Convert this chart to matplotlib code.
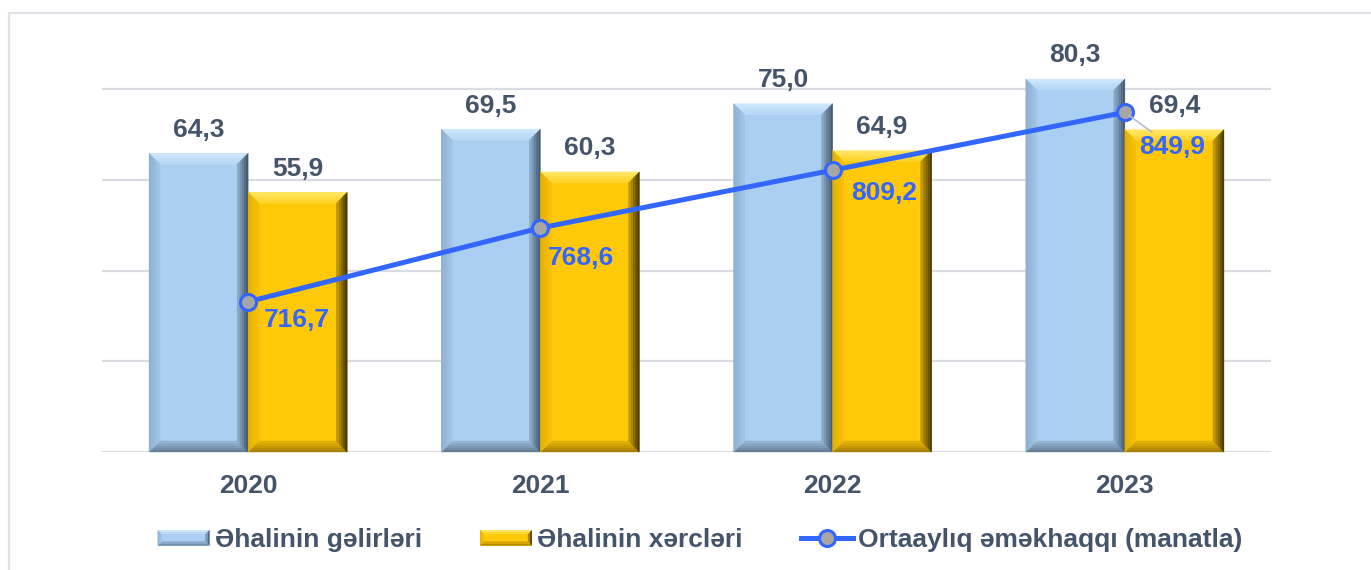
import numpy as np
import matplotlib.pyplot as plt
from matplotlib.patches import Polygon, Rectangle
from matplotlib.lines import Line2D
from matplotlib.legend_handler import HandlerBase
from matplotlib.colors import to_rgb

plt.rcParams['font.family'] = ['Liberation Sans', 'DejaVu Sans']
plt.rcParams['font.weight'] = 'bold'

years = ['2020', '2021', '2022', '2023']
income = [64.3, 69.5, 75.0, 80.3]
expense = [55.9, 60.3, 64.9, 69.4]
wage = [716.7, 768.6, 809.2, 849.9]

income_lbl = ['64,3', '69,5', '75,0', '80,3']
expense_lbl = ['55,9', '60,3', '64,9', '69,4']
wage_lbl = ['716,7', '768,6', '809,2', '849,9']
# label offsets for the wage line (points)
wage_off = [(35, -13), (29, -22), (37, -16.5), (34, -25)]

TXT = '#44546A'
LINE = '#3366FF'
GRID = '#D9DDE3'
BLUE = dict(face='#AACFF2', top='#D2EAFD', left='#8CADCE', right='#3F5267', bottom='#60778F')
GOLD = dict(face='#FFC90A', top='#FFEA70', left='#E3AE00', right='#3E2F00', bottom='#A07A00')

W, H = 1371, 570
fig = plt.figure(figsize=(W / 100, H / 100), dpi=100)
ax = fig.add_axes([102 / W, (570 - 452) / H, 1169 / W, 422 / H])

# outer frame
fig.add_artist(Rectangle((9 / W, -0.1), 1.2, 1.1 - 13 / H, transform=fig.transFigure,
                         fill=False, edgecolor='#DDE2E8', lw=1.6))

x = np.arange(len(years))
bw = 0.339
ax.set_xlim(-0.5, 3.5)
ymax = 90.85
ax.set_ylim(0, ymax)
step = 90.75 / 422 * ymax
for k in range(5):
    ax.axhline(k * step, color=GRID, lw=1.6, zorder=0)

b1 = ax.bar(x - bw / 2, income, bw, color=BLUE['face'], zorder=2, clip_on=False)
b2 = ax.bar(x + bw / 2, expense, bw, color=GOLD['face'], zorder=2, clip_on=False)


def mix(c1, c2, t):
    a, b = np.array(to_rgb(c1)), np.array(to_rgb(c2))
    return tuple(a + (b - a) * t)


def bevel_polys(x0, y0, x1, y1, bx, by, col, n=5):
    out = []
    for i in range(n):
        s0, s1 = i / n, (i + 1) / n
        ax0, ay0 = bx * s0, by * s0
        ax1, ay1 = bx * s1, by * s1
        sides = {
            'top': [(x0 + ax0, y1 - ay0), (x1 - ax0, y1 - ay0), (x1 - ax1, y1 - ay1), (x0 + ax1, y1 - ay1)],
            'bottom': [(x0 + ax0, y0 + ay0), (x1 - ax0, y0 + ay0), (x1 - ax1, y0 + ay1), (x0 + ax1, y0 + ay1)],
            'left': [(x0 + ax0, y0 + ay0), (x0 + ax0, y1 - ay0), (x0 + ax1, y1 - ay1), (x0 + ax1, y0 + ay1)],
            'right': [(x1 - ax0, y0 + ay0), (x1 - ax0, y1 - ay0), (x1 - ax1, y1 - ay1), (x1 - ax1, y0 + ay1)],
        }
        t = (i + 0.5) / n
        for side, pts in sides.items():
            out.append((pts, mix(col[side], col['face'], 0.75 * t)))
    return out


bevel = 11
bx = bevel * 4.0 / 1169
by = bevel * ymax / 422


def add_bevel(bars, col):
    for r in bars:
        x0, y0 = r.get_x(), r.get_y()
        x1, y1 = x0 + r.get_width(), y0 + r.get_height()
        for pts, fc in bevel_polys(x0, y0, x1, y1, bx, by, col):
            ax.add_patch(Polygon(pts, closed=True, facecolor=fc, edgecolor=fc, lw=0.3,
                                 zorder=2.1, clip_on=False))


add_bevel(b1, BLUE)
add_bevel(b2, GOLD)

for r, t in zip(b1, income_lbl):
    ax.annotate(t, (r.get_x() + r.get_width() / 2, r.get_height()), xytext=(0, 12),
                textcoords='offset points', ha='center', va='baseline',
                fontsize=19, color=TXT, fontweight='bold', zorder=5)
for r, t in zip(b2, expense_lbl):
    ax.annotate(t, (r.get_x() + r.get_width() / 2, r.get_height()), xytext=(0, 12),
                textcoords='offset points', ha='center', va='baseline',
                fontsize=19, color=TXT, fontweight='bold', zorder=5)

ax.set_xticks(x)
ax.set_xticklabels(years, fontsize=19, color=TXT, fontweight='bold')
ax.tick_params(axis='x', length=0, pad=16)
ax.set_yticks([])
for s in ax.spines.values():
    s.set_visible(False)

ax2 = ax.twinx()
ax2.set_ylim(611, 907.8)
ax2.set_yticks([])
for s in ax2.spines.values():
    s.set_visible(False)
ax2.plot(x, wage, color=LINE, lw=3.6, marker='o', ms=11.5, mfc='#A6A6A6',
         mec=LINE, mew=2.2, zorder=4)
for i, (xi, v, t) in enumerate(zip(x, wage, wage_lbl)):
    arrow = dict(arrowstyle='-', color='#B4BECB', lw=1.2, shrinkA=0, shrinkB=4) if i == 3 else None
    ax2.annotate(t, (xi, v), xytext=wage_off[i], textcoords='offset points',
                 ha='center', va='center', fontsize=19, color=LINE, fontweight='bold',
                 arrowprops=arrow, zorder=5)


class BevelHandler(HandlerBase):
    def __init__(self, col):
        super().__init__()
        self.col = col

    def create_artists(self, legend, orig_handle, xdescent, ydescent, width, height, fontsize, trans):
        x0, y0 = -xdescent, -ydescent + height / 2 - 5.6
        x1, y1 = x0 + width, y0 + 11.2
        c = self.col
        arts = [Rectangle((x0, y0), width, y1 - y0, facecolor=c['face'], edgecolor='none', transform=trans)]
        for pts, fc in bevel_polys(x0, y0, x1, y1, 3, 3, c, n=2):
            arts.append(Polygon(pts, closed=True, facecolor=fc, edgecolor='none', transform=trans))
        return arts


h1 = Rectangle((0, 0), 1, 1)
h2 = Rectangle((0, 0), 1, 1, label='b')
h3 = Line2D([], [], color=LINE, lw=3.6, marker='o', ms=11.5, mfc='#A6A6A6', mec=LINE, mew=2.2)
leg = fig.legend([h1, h2, h3],
                 ['Əhalinin gəlirləri', 'Əhalinin xərcləri', 'Ortaaylıq əməkhaqqı (manatla)'],
                 handler_map={h1: BevelHandler(BLUE), h2: BevelHandler(GOLD)},
                 loc='center', bbox_to_anchor=(700 / W, 30 / H), ncol=3, frameon=False,
                 fontsize=19, handlelength=1.97, handletextpad=0.2, columnspacing=2.2,
                 borderaxespad=0)
for t in leg.get_texts():
    t.set_color(TXT)
    t.set_fontweight('bold')

fig.savefig('out.png', dpi=100)
